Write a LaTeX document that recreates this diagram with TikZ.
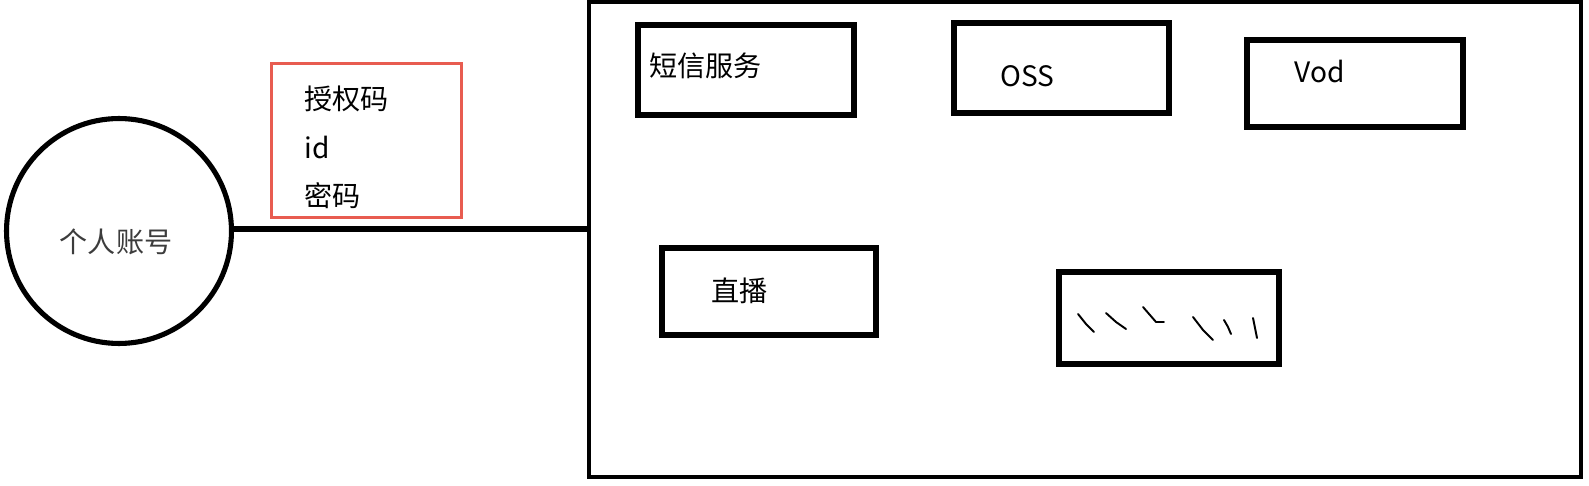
\documentclass[tikz,border=0pt]{standalone}
\usepackage{fontspec}
\setmainfont{Noto Sans CJK SC}
\usepackage{xcolor}
\usepackage{tikz}
\usetikzlibrary{positioning, calc}

\definecolor{keyred}{RGB}{232,92,80}
\definecolor{inkgrey}{RGB}{60,60,60}

\begin{document}
\begin{tikzpicture}[
    x=0.02cm, y=-0.02cm,
    svcbox/.style={rectangle, draw, line width=3.4pt, inner sep=0pt},
    svctext/.style={anchor=west, inner sep=0pt, font=\fontsize{16}{19}\selectfont},
    keytext/.style={anchor=west, inner sep=0pt, font=\fontsize{16}{19}\selectfont},
    scribble/.style={line width=1.1pt, line cap=round, line join=round}
]
\useasboundingbox (0,0) rectangle (1589,486);

% Account
\node[circle, draw, line width=2.9pt, minimum size=4.5cm, inner sep=0pt] (acct) at (119,231) {};
\node[text=inkgrey, font=\fontsize{16}{19}\selectfont] (acctname) at (116,242) {个人账号};

% Credentials
\node[rectangle, draw=keyred, line width=1.7pt, minimum width=3.8cm, minimum height=3.08cm] (cred) at (366.5,140.5) {};
\node[keytext] (authcode) at (304,99) {授权码};
\node[keytext] (idtext) at (304,147) {id};
\node[keytext] (pwd) at (304,196) {密码};

% Platform
\node[rectangle, draw, line width=2.3pt, minimum width=19.84cm, minimum height=9.5cm] (platform) at (1085,239.5) {};

% Services
\node[svcbox, minimum width=4.32cm, minimum height=1.8cm] (sms) at (746,70) {};
\node[svctext] (smsname) at (649,66) {短信服务};

\node[svcbox, minimum width=4.3cm, minimum height=1.8cm] (oss) at (1061.5,68) {};
\node[svctext] (ossname) at (1000,76) {OSS};

\node[svcbox, minimum width=4.32cm, minimum height=1.74cm] (vod) at (1355,83.5) {};
\node[svctext] (vodname) at (1294,71) {Vod};

\node[svcbox, minimum width=4.28cm, minimum height=1.74cm] (live) at (769,291.5) {};
\node[svctext] (livename) at (711,291) {直播};

\node[svcbox, minimum width=4.4cm, minimum height=1.84cm] (misc) at (1169,318) {};

% Scribbles
\draw[scribble] (1078,314) -- (1086,324) -- (1094,332);
\draw[scribble] (1106,313) -- (1116,322) -- (1126,329);
\draw[scribble] (1143,307) -- (1156,322) -- (1164,322);
\draw[scribble] (1193,317) -- (1203,330) -- (1213,340);
\draw[scribble] (1224,320) -- (1228,327) -- (1231,334);
\draw[scribble] (1253,318) -- (1255,328) -- (1257,338);

% Link
\draw[line width=2.9pt] (acct.east |- 0,229) -- (platform.west |- 0,229);

\end{tikzpicture}
\end{document}
